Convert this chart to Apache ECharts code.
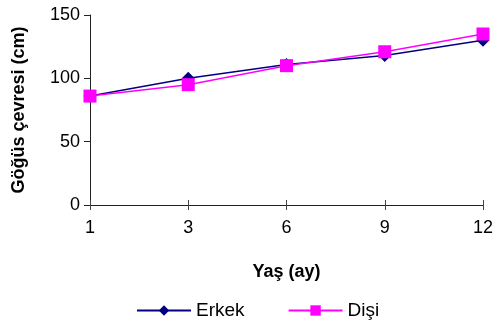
<!DOCTYPE html>
<html><head><meta charset="utf-8">
<script src="https://cdn.jsdelivr.net/npm/echarts@6/dist/echarts.min.js"></script>
<style>html,body{margin:0;padding:0;background:#fff}#c{width:497px;height:327px}</style>
</head><body><div id="c"></div>
<script>
const categories = ['1','3','6','9','12'];
const erkek = [86, 100, 111, 118, 130];
const disi = [86, 95, 110, 121, 135];
const yTicks = {min: 0, max: 150, interval: 50};

const font = 'Liberation Sans, Arial, sans-serif';
const chart = echarts.init(document.getElementById('c'));
chart.setOption({
  animation: false,
  grid: {left: 90, right: 14, top: 15, bottom: 122, containLabel: false},
  legend: {
    bottom: 2, left: 131, itemGap: 43, itemWidth: 54, itemHeight: 13,
    textStyle: {fontFamily: font, fontSize: 19, color: '#000'},
    data: [{name: 'Erkek'}, {name: 'Dişi'}]
  },
  xAxis: [{
    type: 'category', data: categories, boundaryGap: false,
    name: 'Yaş (ay)', nameLocation: 'middle', nameGap: 58,
    nameTextStyle: {fontFamily: font, fontSize: 18, fontWeight: 'bold', color: '#000'},
    axisLine: {lineStyle: {color: '#222', width: 1}},
    axisTick: {show: true, length: 5, lineStyle: {color: '#444'}},
    axisLabel: {fontFamily: font, fontSize: 18, color: '#000', margin: 14},
    splitLine: {show: false}
  }, {
    type: 'category', data: categories, boundaryGap: false, position: 'bottom',
    axisLine: {show: false},
    axisTick: {show: true, inside: true, length: 5, lineStyle: {color: '#444'}},
    axisLabel: {show: false}, splitLine: {show: false}
  }],
  yAxis: {
    type: 'value', min: yTicks.min, max: yTicks.max, interval: yTicks.interval,
    name: 'Göğüs çevresi (cm)', nameLocation: 'middle', nameGap: 62, nameRotate: 90,
    nameTextStyle: {fontFamily: font, fontSize: 18, fontWeight: 'bold', color: '#000'},
    axisLine: {show: true, lineStyle: {color: '#222', width: 1}},
    axisTick: {show: true, length: 6, lineStyle: {color: '#222'}},
    axisLabel: {fontFamily: font, fontSize: 18, color: '#000', margin: 10},
    splitLine: {show: false}
  },
  series: [{
    name: 'Erkek', type: 'line', data: erkek,
    symbol: 'diamond', symbolSize: 13,
    lineStyle: {color: '#000080', width: 1.5},
    itemStyle: {color: '#000080'}, z: 2
  }, {
    name: 'Dişi', type: 'line', data: disi,
    symbol: 'rect', symbolSize: 13,
    lineStyle: {color: '#FF00FF', width: 1.5},
    itemStyle: {color: '#FF00FF'}, z: 3
  }]
});
</script></body></html>
